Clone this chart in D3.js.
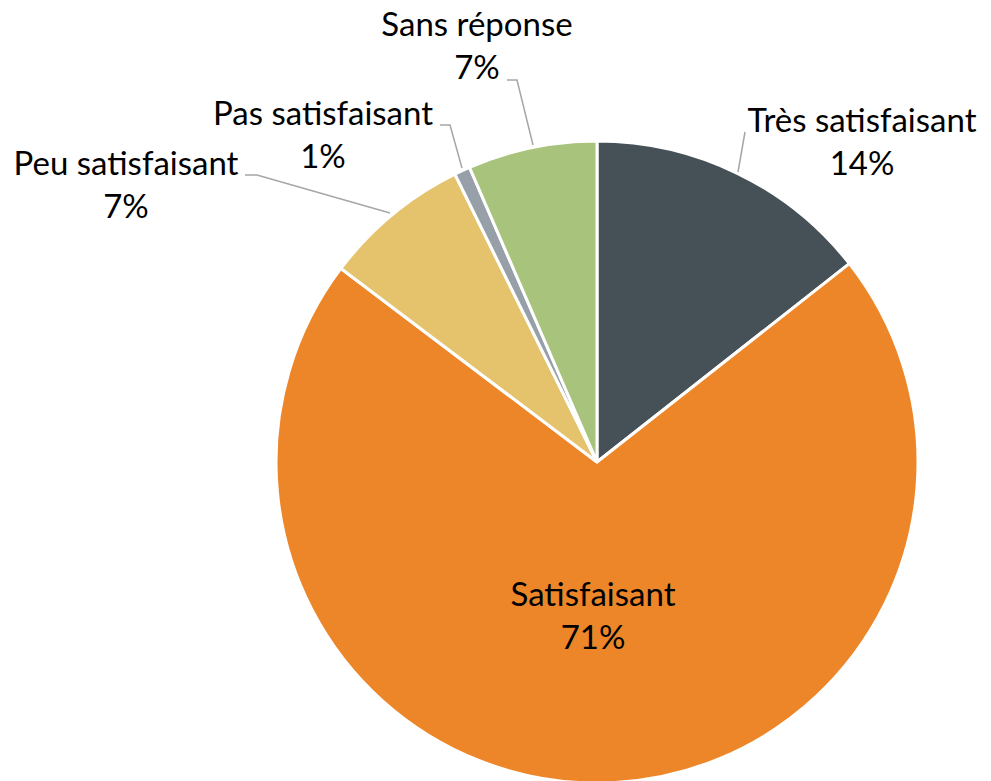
<!DOCTYPE html>
<html>
<head>
<meta charset="utf-8">
<script src="https://cdn.jsdelivr.net/npm/d3@7"></script>
<style>
  html, body { margin: 0; padding: 0; background: #fff; }
  svg { display: block; }
</style>
</head>
<body>
<svg id="chart" width="991" height="781"></svg>
<script>
const categories = ["Très satisfaisant", "Satisfaisant", "Peu satisfaisant", "Pas satisfaisant", "Sans réponse"];
const values = [14.4, 70.9, 7.4, 0.8, 6.5];
const pctLabels = ["14%", "71%", "7%", "1%", "7%"];
const colors = ["#465157", "#ED8629", "#E5C36C", "#979FA8", "#A8C37C"];

const svg = d3.select("#chart");
const cx = 597, cy = 462, R = 321;
const g = svg.append("g").attr("transform", `translate(${cx},${cy})`);

const data = categories.map((c, i) => ({ cat: c, value: values[i], pct: pctLabels[i], color: colors[i] }));
const pie = d3.pie().sort(null).value(d => d.value);
const arcs = pie(data);
const arc = d3.arc().innerRadius(0).outerRadius(R);

g.selectAll("path.slice").data(arcs).enter().append("path")
  .attr("class", "slice")
  .attr("d", arc)
  .attr("fill", d => d.data.color)
  .attr("stroke", "#fff")
  .attr("stroke-width", 3)
  .attr("stroke-linejoin", "miter");

// label placement (offsets relative to center), leader lines for outside labels
const labelPos = [
  { x: 265, y: -330, line: [[148, -330], [141, -290]] },
  { x: -4, y: 144, line: null },
  { x: -471, y: -287, line: [[-352, -287], [-340, -287], [-207, -249]] },
  { x: -274, y: -337, line: [[-157, -337], [-147, -337], [-135, -294]] },
  { x: -120, y: -426, line: [[-90, -382], [-80, -382], [-64, -317]] }
];

const fontSize = 33;
arcs.forEach((a, i) => {
  const p = labelPos[i];
  if (p.line) {
    g.append("path")
      .attr("d", d3.line()(p.line))
      .attr("fill", "none")
      .attr("stroke", "#a6a6a6")
      .attr("stroke-width", 1.5);
  }
  const t = g.append("text")
    .attr("text-anchor", "middle")
    .attr("font-family", "Lato, 'Open Sans', sans-serif")
    .attr("font-size", fontSize)
    .attr("fill", "#000");
  t.append("tspan").attr("x", p.x).attr("y", p.y).text(a.data.cat);
  t.append("tspan").attr("x", p.x).attr("y", p.y + 43).text(a.data.pct);
});
</script>
</body>
</html>
